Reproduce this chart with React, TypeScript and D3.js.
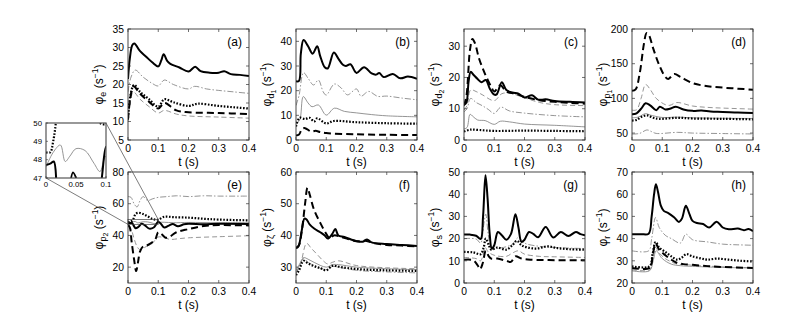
import React from 'react';
import * as d3 from 'd3';

type P = [number, number];

const xTicks = [0, 0.1, 0.2, 0.3, 0.4];
const xTickLabels = ['0', '0.1', '0.2', '0.3', '0.4'];
const insetXTicks = [0, 0.05, 0.1];
const insetXTickLabels = ['0', '0.05', '0.1'];
const insetYTicks = [47, 48, 49, 50];

// ---- (a) phi_e ----
const aSolid: P[] = [[0,21.5],[0.006,27],[0.014,30.6],[0.021,31.1],[0.04,29],[0.06,27.5],[0.08,26],[0.1,24.9],[0.11,26.5],[0.118,28.2],[0.13,26.3],[0.14,25.6],[0.17,24.6],[0.2,23.5],[0.222,24.8],[0.24,23.6],[0.27,23.2],[0.3,23.2],[0.318,23.6],[0.34,22.8],[0.37,22.6],[0.4,22.3]];
const aDashDot: P[] = [[0,18],[0.01,22],[0.024,23.9],[0.05,22],[0.08,20.3],[0.1,19.6],[0.12,21.2],[0.15,20],[0.2,18.8],[0.22,19.5],[0.26,18.8],[0.3,18.4],[0.35,18],[0.4,17.6]];
const aDot: P[] = [[0,11],[0.008,17],[0.02,19.9],[0.04,18],[0.07,16],[0.1,14],[0.12,16],[0.15,15.2],[0.2,14.2],[0.23,14.8],[0.3,14.2],[0.4,13.5]];
const aDash: P[] = [[0,10.5],[0.008,16.5],[0.018,19.5],[0.04,17.5],[0.07,15.3],[0.1,13.5],[0.12,15],[0.16,13],[0.2,12.5],[0.3,12.3],[0.4,12]];
const aThinDash: P[] = [[0,10],[0.008,15.5],[0.018,18],[0.04,16],[0.07,14],[0.1,12.3],[0.12,13],[0.16,12],[0.2,11.5],[0.3,11.2],[0.4,10.9]];

// ---- (b) phi_d1 ----
const bSolid: P[] = [[0,23.8],[0.01,24],[0.016,35],[0.025,40.5],[0.04,38],[0.055,35],[0.07,38],[0.08,34],[0.095,29.5],[0.105,29],[0.125,35.5],[0.14,33],[0.155,30.5],[0.165,30],[0.18,30.7],[0.2,27.2],[0.225,29.5],[0.25,27],[0.265,26.5],[0.275,27.2],[0.29,25.5],[0.32,26.8],[0.345,25],[0.37,25.7],[0.4,24.8]];
const bDashDot: P[] = [[0,14],[0.01,18],[0.025,27.3],[0.04,25],[0.058,22.3],[0.074,24.3],[0.09,19.5],[0.1,18.2],[0.127,22.7],[0.15,21],[0.17,18.3],[0.2,20.7],[0.215,17.8],[0.24,19.7],[0.27,17.7],[0.3,17.8],[0.35,17],[0.4,16.3]];
const bThin: P[] = [[0,6.8],[0.012,8],[0.024,17.6],[0.04,15],[0.053,13.5],[0.074,14.2],[0.1,10.1],[0.127,12.9],[0.16,11.6],[0.2,11],[0.25,10.3],[0.3,9.8],[0.4,9.4]];
const bDot: P[] = [[0,5.5],[0.012,9],[0.03,8.5],[0.045,9],[0.06,7.5],[0.07,8.8],[0.1,6.7],[0.125,7.7],[0.2,7.2],[0.3,6.8],[0.4,6.6]];
const bDash: P[] = [[0,1.8],[0.01,2.2],[0.02,4.5],[0.03,4.8],[0.05,3.4],[0.065,3.7],[0.08,3.2],[0.1,2.8],[0.2,2.3],[0.3,2.1],[0.4,2]];

// ---- (c) phi_d2 ----
const cDash: P[] = [[0,11],[0.008,14],[0.02,29],[0.028,32.3],[0.036,31],[0.05,26],[0.07,21],[0.09,17],[0.1,15.5],[0.12,17.5],[0.14,15.5],[0.17,14.8],[0.2,13.8],[0.25,12.7],[0.3,12.2],[0.35,11.9],[0.4,11.6]];
const cSolid: P[] = [[0,11.3],[0.008,12],[0.015,18.5],[0.022,21.8],[0.032,20.8],[0.045,19.5],[0.058,18.5],[0.072,19.2],[0.085,16.5],[0.1,14.5],[0.108,14.6],[0.125,18.5],[0.14,16],[0.16,15.2],[0.18,14.8],[0.2,13.6],[0.225,14.3],[0.245,12.9],[0.27,13],[0.3,12.5],[0.35,12.2],[0.4,12]];
const cThinDash: P[] = [[0,9.6],[0.01,11],[0.022,16],[0.04,15.5],[0.06,14.5],[0.1,12.6],[0.125,14.8],[0.15,15],[0.2,13.5],[0.25,12],[0.3,11.3],[0.4,11]];
const cDashDot: P[] = [[0,9],[0.01,10],[0.022,13.3],[0.04,12],[0.06,11],[0.08,9.8],[0.1,8.5],[0.122,10.5],[0.15,9.3],[0.2,8.6],[0.3,7.8],[0.4,7.4]];
const cThin: P[] = [[0,3.5],[0.01,4],[0.02,8.2],[0.03,7.5],[0.045,6.4],[0.07,6.2],[0.1,5],[0.12,6],[0.15,5.8],[0.2,5.1],[0.3,4.7],[0.4,4.2]];
const cDot: P[] = [[0,2.7],[0.02,3.3],[0.05,3.2],[0.1,2.9],[0.2,3],[0.3,2.9],[0.4,2.8]];

// ---- (d) phi_p1 ----
const dDash: P[] = [[0,111],[0.012,113],[0.025,135],[0.04,180],[0.048,194],[0.055,192],[0.07,172],[0.09,148],[0.11,131],[0.12,128],[0.14,135],[0.16,131],[0.2,122],[0.25,117.5],[0.3,115.5],[0.35,114],[0.4,112.5]];
const dThinDash: P[] = [[0,83],[0.015,83.5],[0.03,100],[0.045,120],[0.06,113],[0.08,100],[0.11,91],[0.125,90],[0.148,94],[0.2,89],[0.25,87],[0.3,86],[0.4,84.5]];
const dSolid: P[] = [[0,77],[0.015,78.5],[0.03,85],[0.045,93],[0.06,90],[0.08,83],[0.092,88],[0.11,84],[0.125,85],[0.145,88],[0.17,84],[0.2,82],[0.23,82.5],[0.26,81],[0.3,80.5],[0.35,79.5],[0.4,79]];
const dThin: P[] = [[0,72],[0.02,73],[0.045,78],[0.06,76],[0.1,72.5],[0.15,73],[0.2,72],[0.4,71]];
const dDot: P[] = [[0,68],[0.015,69],[0.03,73],[0.05,75.5],[0.07,72],[0.09,70.5],[0.15,72],[0.2,71],[0.3,70.5],[0.4,69.8]];
const dDashDot: P[] = [[0,48.5],[0.025,49.5],[0.05,54.5],[0.065,52],[0.08,49.5],[0.15,51],[0.2,50],[0.3,49.3],[0.4,48.7]];

// ---- (e) phi_p2 ----
const eDashDot: P[] = [[0,64.5],[0.01,64],[0.02,60],[0.03,58],[0.04,62],[0.05,64.5],[0.065,62],[0.08,63],[0.1,64],[0.13,64.5],[0.16,65],[0.2,64.5],[0.25,65],[0.3,64.8],[0.4,64.8]];
const eDot: P[] = [[0,48.4],[0.007,48.4],[0.012,49],[0.018,50.5],[0.025,53.5],[0.035,54.3],[0.05,53.5],[0.065,52],[0.08,50.4],[0.09,50],[0.1,49.95],[0.12,51.8],[0.15,51.5],[0.2,51.2],[0.25,50.5],[0.3,50],[0.4,49.5]];
const eSolid: P[] = [[0,47.7],[0.008,47.8],[0.013,47.9],[0.018,46.5],[0.025,44.5],[0.035,45.5],[0.045,47.3],[0.055,46.5],[0.07,44.3],[0.085,45],[0.093,47],[0.1,48.7],[0.108,47.5],[0.12,45],[0.135,46.2],[0.148,47.2],[0.165,45.8],[0.185,47],[0.2,47.3],[0.25,47],[0.3,47.3],[0.4,47.2]];
const eThin: P[] = [[0,47.6],[0.012,48.4],[0.024,48.8],[0.032,47.9],[0.04,48.2],[0.05,48.6],[0.065,48.5],[0.08,47.8],[0.09,47.35],[0.1,48.2],[0.12,48.3],[0.15,48],[0.2,48.2],[0.3,48],[0.4,48]];
const eDash: P[] = [[0,46.5],[0.006,45],[0.012,36],[0.02,25],[0.027,17.5],[0.033,23],[0.04,30],[0.05,33],[0.06,33.5],[0.075,35],[0.09,37.5],[0.1,42],[0.11,41],[0.125,38.5],[0.14,39.5],[0.16,42],[0.2,44],[0.25,46],[0.3,46.5],[0.4,46.3]];
const eThinDash: P[] = [[0,46],[0.01,44],[0.02,38],[0.03,33],[0.04,31],[0.06,33],[0.08,35],[0.1,39],[0.12,38.5],[0.14,37.5],[0.17,38],[0.2,38.5],[0.3,39.2],[0.4,39.8]];

// ---- (f) phi_zeta ----
const fDash: P[] = [[0,36],[0.01,37],[0.02,42],[0.03,50],[0.038,55],[0.045,53],[0.06,48],[0.08,44],[0.1,40.5],[0.112,39],[0.125,40],[0.15,39.5],[0.2,38.2],[0.23,38.3],[0.26,37.5],[0.3,37],[0.35,36.8],[0.4,36.5]];
const fSolid: P[] = [[0,36],[0.008,36.5],[0.018,41],[0.028,45.3],[0.035,45],[0.045,43.5],[0.06,42.2],[0.08,41],[0.095,40],[0.105,39],[0.12,40.5],[0.13,42],[0.14,40],[0.16,39.5],[0.2,38.2],[0.22,38],[0.235,38.7],[0.25,37.8],[0.3,37.3],[0.35,37],[0.4,36.7]];
const fThinDash: P[] = [[0,28.3],[0.015,31],[0.035,37.5],[0.05,36],[0.07,34],[0.09,32],[0.105,31],[0.12,31.5],[0.14,32],[0.2,30.5],[0.3,29.8],[0.4,29.5]];
const fThin: P[] = [[0,29],[0.012,31],[0.025,33],[0.04,32.5],[0.06,31.5],[0.1,30],[0.12,30.8],[0.14,30.8],[0.2,30],[0.3,29.5],[0.4,29.2]];
const fDot: P[] = [[0,27.5],[0.01,29],[0.025,32],[0.04,31.2],[0.06,30.3],[0.08,29.7],[0.1,29],[0.12,30.4],[0.15,30],[0.2,29.4],[0.3,29],[0.4,28.8]];
const fDashDot: P[] = [[0,28],[0.012,30.5],[0.025,32.7],[0.04,31.5],[0.06,30.5],[0.1,29.2],[0.12,30.2],[0.15,29.8],[0.2,29],[0.3,28.5],[0.4,28.2]];

// ---- (g) phi_s ----
const gSolid: P[] = [[0,21.8],[0.02,21.8],[0.04,21.3],[0.055,19.8],[0.063,30],[0.071,48.5],[0.078,38],[0.085,22],[0.092,15.5],[0.1,17],[0.112,23],[0.125,21.5],[0.14,19.5],[0.155,22],[0.17,31],[0.18,25],[0.19,18.5],[0.2,19.5],[0.215,23],[0.23,22],[0.245,20.6],[0.27,25.2],[0.295,20.5],[0.32,23],[0.345,21.2],[0.37,23],[0.385,22],[0.4,21.5]];
const gDashDot: P[] = [[0,20],[0.04,19.8],[0.055,18],[0.065,26],[0.072,31],[0.08,22],[0.09,15.5],[0.1,15.5],[0.13,16],[0.16,17.5],[0.18,20.5],[0.2,18],[0.25,16.5],[0.3,16],[0.4,15.5]];
const gDot: P[] = [[0,14],[0.03,13.8],[0.055,13],[0.065,16],[0.072,20],[0.082,17],[0.09,15],[0.11,16],[0.14,15],[0.16,17],[0.175,19],[0.19,17],[0.21,16],[0.24,15.5],[0.275,16.5],[0.31,15.7],[0.35,15.2],[0.4,15]];
const gThinDash: P[] = [[0,11.5],[0.04,11],[0.055,10],[0.07,16],[0.08,14],[0.1,12.5],[0.14,12],[0.16,13.5],[0.18,14.5],[0.2,13],[0.25,12],[0.3,11.8],[0.4,11.5]];
const gDash: P[] = [[0,10.5],[0.03,10.3],[0.045,8],[0.053,6.2],[0.062,9],[0.072,14.5],[0.082,12],[0.09,11],[0.11,11],[0.14,10],[0.155,9.5],[0.17,12],[0.19,11],[0.22,10.5],[0.3,10.3],[0.4,10.2]];

// ---- (h) phi_r ----
const hSolid: P[] = [[0,42],[0.03,42],[0.055,42.2],[0.065,50],[0.073,60],[0.079,64.5],[0.086,61],[0.095,55],[0.105,52.5],[0.12,51.5],[0.14,49.5],[0.155,47.5],[0.165,49],[0.178,54.8],[0.19,51],[0.2,48],[0.215,47],[0.235,46.6],[0.255,45],[0.28,47.6],[0.3,45],[0.32,44.2],[0.35,44.5],[0.37,43.8],[0.385,44.3],[0.4,43.4]];
const hDashDot: P[] = [[0,34.5],[0.055,34.5],[0.065,40],[0.078,49.5],[0.09,45],[0.11,41.5],[0.13,40],[0.16,38],[0.178,42],[0.2,39.5],[0.25,38.5],[0.3,37.5],[0.35,37.2],[0.4,37]];
const hDot: P[] = [[0,27.5],[0.058,27.5],[0.068,33],[0.078,38.5],[0.09,36],[0.11,34],[0.13,32],[0.15,30.5],[0.165,31.5],[0.18,33],[0.2,32],[0.23,31],[0.25,30.5],[0.28,31],[0.32,30.5],[0.36,30],[0.4,29.7]];
const hDash: P[] = [[0,26.8],[0.058,26.8],[0.068,32],[0.078,37.8],[0.09,35],[0.11,32.5],[0.13,30.5],[0.15,29],[0.17,28.5],[0.2,28.2],[0.25,27.6],[0.3,27.2],[0.4,26.8]];
const hThinDash: P[] = [[0,26],[0.058,26],[0.068,31],[0.078,36],[0.09,33.5],[0.11,31],[0.13,29.5],[0.15,28.5],[0.18,28.3],[0.2,28],[0.3,27.3],[0.4,26.8]];
const hThin: P[] = [[0,25.5],[0.058,25.5],[0.07,30],[0.08,34.5],[0.1,31],[0.13,28.5],[0.16,27.8],[0.2,27.5],[0.3,27],[0.4,26.8]];

type Kind = 'S' | 'D' | 'O' | 's' | 'd' | 'c';
const STYLE: Record<Kind, { stroke: string; w: number; dash?: string; order: number }> = {
  s: { stroke: '#7a7a7a', w: 0.8, order: 0 },
  d: { stroke: '#7a7a7a', w: 0.8, dash: '5,3', order: 1 },
  c: { stroke: '#7a7a7a', w: 0.8, dash: '6,2,1.5,2', order: 2 },
  O: { stroke: '#000', w: 2.2, dash: '1.6,1.6', order: 3 },
  D: { stroke: '#000', w: 2, dash: '7,4', order: 4 },
  S: { stroke: '#000', w: 2, order: 5 },
};

interface PanelDef {
  tag: string;
  sub: string;
  sub2?: string;
  col: number;
  row: number;
  yDomain: [number, number];
  yTicks: number[];
  series: { k: Kind; d: P[] }[];
}

const panels: PanelDef[] = [
  { tag: '(a)', sub: 'e', col: 0, row: 0, yDomain: [5, 35], yTicks: [5, 10, 15, 20, 25, 30, 35],
    series: [{ k: 'c', d: aDashDot }, { k: 'd', d: aThinDash }, { k: 'O', d: aDot }, { k: 'D', d: aDash }, { k: 'S', d: aSolid }] },
  { tag: '(b)', sub: 'd', sub2: '1', col: 1, row: 0, yDomain: [0, 45], yTicks: [0, 10, 20, 30, 40],
    series: [{ k: 'c', d: bDashDot }, { k: 's', d: bThin }, { k: 'O', d: bDot }, { k: 'D', d: bDash }, { k: 'S', d: bSolid }] },
  { tag: '(c)', sub: 'd', sub2: '2', col: 2, row: 0, yDomain: [0, 35.5], yTicks: [0, 10, 20, 30],
    series: [{ k: 'c', d: cDashDot }, { k: 'd', d: cThinDash }, { k: 's', d: cThin }, { k: 'O', d: cDot }, { k: 'D', d: cDash }, { k: 'S', d: cSolid }] },
  { tag: '(d)', sub: 'p', sub2: '1', col: 3, row: 0, yDomain: [40, 200], yTicks: [50, 100, 150, 200],
    series: [{ k: 'c', d: dDashDot }, { k: 'd', d: dThinDash }, { k: 's', d: dThin }, { k: 'O', d: dDot }, { k: 'D', d: dDash }, { k: 'S', d: dSolid }] },
  { tag: '(e)', sub: 'p', sub2: '2', col: 0, row: 1, yDomain: [10, 80], yTicks: [20, 40, 60, 80],
    series: [{ k: 'c', d: eDashDot }, { k: 'd', d: eThinDash }, { k: 's', d: eThin }, { k: 'O', d: eDot }, { k: 'D', d: eDash }, { k: 'S', d: eSolid }] },
  { tag: '(f)', sub: 'ζ', col: 1, row: 1, yDomain: [25, 60], yTicks: [30, 40, 50, 60],
    series: [{ k: 'c', d: fDashDot }, { k: 'd', d: fThinDash }, { k: 's', d: fThin }, { k: 'O', d: fDot }, { k: 'D', d: fDash }, { k: 'S', d: fSolid }] },
  { tag: '(g)', sub: 's', col: 2, row: 1, yDomain: [0, 50], yTicks: [0, 10, 20, 30, 40, 50],
    series: [{ k: 'c', d: gDashDot }, { k: 'd', d: gThinDash }, { k: 'O', d: gDot }, { k: 'D', d: gDash }, { k: 'S', d: gSolid }] },
  { tag: '(h)', sub: 'r', col: 3, row: 1, yDomain: [20, 70], yTicks: [20, 30, 40, 50, 60, 70],
    series: [{ k: 'c', d: hDashDot }, { k: 's', d: hThin }, { k: 'd', d: hThinDash }, { k: 'O', d: hDot }, { k: 'D', d: hDash }, { k: 'S', d: hSolid }] },
];

const COLS = [128, 296, 464, 632];
const ROWS = [29, 172];
const PW = 121;
const PH = 111;
const FONT = '"Liberation Sans", Arial, Helvetica, sans-serif';
const FRAME = '#333';

function Lines({ series, x, y, clip }: { series: { k: Kind; d: P[] }[]; x: d3.ScaleLinear<number, number>; y: d3.ScaleLinear<number, number>; clip: string }) {
  const line = d3.line<P>().x(d => x(d[0])).y(d => y(d[1])).curve(d3.curveCatmullRom.alpha(0.5));
  const sorted = [...series].sort((a, b) => STYLE[a.k].order - STYLE[b.k].order);
  return (
    <g clipPath={`url(#${clip})`}>
      {sorted.map((s, i) => {
        const st = STYLE[s.k];
        return <path key={i} d={line(s.d) || ''} fill="none" stroke={st.stroke} strokeWidth={st.w} strokeDasharray={st.dash} strokeLinejoin="round" />;
      })}
    </g>
  );
}

function Panel({ p, idx }: { p: PanelDef; idx: number }) {
  const x0 = COLS[p.col];
  const y0 = ROWS[p.row];
  const x = d3.scaleLinear().domain([0, 0.4]).range([x0, x0 + PW]);
  const y = d3.scaleLinear().domain(p.yDomain).range([y0 + PH, y0]);
  const clip = `clip${idx}`;
  const cy = y0 + PH / 2;
  const lx = x0 - 25;
  return (
    <g>
      <clipPath id={clip}><rect x={x0} y={y0} width={PW} height={PH} /></clipPath>
      <rect x={x0} y={y0} width={PW} height={PH} fill="#fff" />
      <Lines series={p.series} x={x} y={y} clip={clip} />
      {p.tag === '(e)' && (
        <rect x={x(0)} y={y(50)} width={x(0.1) - x(0)} height={y(47) - y(50)} fill="none" stroke="#444" strokeWidth={0.7} />
      )}
      <rect x={x0} y={y0} width={PW} height={PH} fill="none" stroke={FRAME} strokeWidth={0.9} />
      {xTicks.map((t, i) => (
        <g key={'x' + i}>
          <line x1={x(t)} x2={x(t)} y1={y0 + PH} y2={y0 + PH - 3} stroke={FRAME} strokeWidth={0.7} />
          <line x1={x(t)} x2={x(t)} y1={y0} y2={y0 + 3} stroke={FRAME} strokeWidth={0.7} />
          <text x={x(t)} y={y0 + PH + 11.5} textAnchor="middle" fontSize={10.3} fontFamily={FONT}>{xTickLabels[i]}</text>
        </g>
      ))}
      {p.yTicks.map((t, i) => (
        <g key={'y' + i}>
          <line x1={x0} x2={x0 + 3} y1={y(t)} y2={y(t)} stroke={FRAME} strokeWidth={0.7} />
          <line x1={x0 + PW} x2={x0 + PW - 3} y1={y(t)} y2={y(t)} stroke={FRAME} strokeWidth={0.7} />
          <text x={x0 - 4} y={y(t)} dy="0.36em" textAnchor="end" fontSize={10.3} fontFamily={FONT}>{t}</text>
        </g>
      ))}
      <text x={x0 + PW / 2} y={y0 + PH + 26} textAnchor="middle" fontSize={12} fontFamily={FONT}>t (s)</text>
      <text x={x0 + PW - 7} y={y0 + 17} textAnchor="end" fontSize={12} fontFamily={FONT}>{p.tag}</text>
      <text transform={`translate(${lx},${cy}) rotate(-90)`} textAnchor="middle" fontSize={12} fontFamily={FONT}>
        <tspan>φ</tspan>
        <tspan fontSize={9} dy={3}>{p.sub}</tspan>
        {p.sub2 ? <tspan fontSize={7} dy={2}>{p.sub2}</tspan> : null}
        <tspan dy={p.sub2 ? -5 : -3}>{' (s'}</tspan>
        <tspan fontSize={8.5} dy={-5}>{'−1'}</tspan>
        <tspan dy={5}>)</tspan>
      </text>
    </g>
  );
}

function Inset() {
  const e = panels[4];
  const ix0 = 46, ix1 = 106, iy0 = 123, iy1 = 178;
  const x = d3.scaleLinear().domain([0, 0.1]).range([ix0, ix1]);
  const y = d3.scaleLinear().domain([47, 50]).range([iy1, iy0]);
  const ex = d3.scaleLinear().domain([0, 0.4]).range([COLS[e.col], COLS[e.col] + PW]);
  const ey = d3.scaleLinear().domain(e.yDomain).range([ROWS[e.row] + PH, ROWS[e.row]]);
  return (
    <g>
      <line x1={ix1} y1={iy0} x2={ex(0.1)} y2={ey(50)} stroke="#444" strokeWidth={0.7} />
      <line x1={ix0} y1={iy1} x2={ex(0)} y2={ey(47)} stroke="#444" strokeWidth={0.7} />
      <clipPath id="insetclip"><rect x={ix0} y={iy0} width={ix1 - ix0} height={iy1 - iy0} /></clipPath>
      <rect x={ix0} y={iy0} width={ix1 - ix0} height={iy1 - iy0} fill="#fff" />
      <Lines series={e.series} x={x} y={y} clip="insetclip" />
      <rect x={ix0} y={iy0} width={ix1 - ix0} height={iy1 - iy0} fill="none" stroke="#555" strokeWidth={1.2} />
      {insetXTicks.map((t, i) => (
        <g key={'ix' + i}>
          <line x1={x(t)} x2={x(t)} y1={iy1} y2={iy1 - 2} stroke={FRAME} strokeWidth={0.6} />
          <text x={x(t)} y={iy1 + 8.5} textAnchor="middle" fontSize={7.8} fontFamily={FONT}>{insetXTickLabels[i]}</text>
        </g>
      ))}
      {insetYTicks.map((t, i) => (
        <g key={'iy' + i}>
          <line x1={ix0} x2={ix0 + 2} y1={y(t)} y2={y(t)} stroke={FRAME} strokeWidth={0.6} />
          <text x={ix0 - 4} y={y(t)} dy="0.35em" textAnchor="end" fontSize={7.8} fontFamily={FONT}>{t}</text>
        </g>
      ))}
    </g>
  );
}

export default function App() {
  return (
    <svg width={804} height={317} style={{ position: 'absolute', left: 0, top: 0, background: '#fff' }}>
      <rect x={0} y={0} width={804} height={317} fill="#fff" />
      {panels.map((p, i) => <Panel key={i} p={p} idx={i} />)}
      <Inset />
    </svg>
  );
}
